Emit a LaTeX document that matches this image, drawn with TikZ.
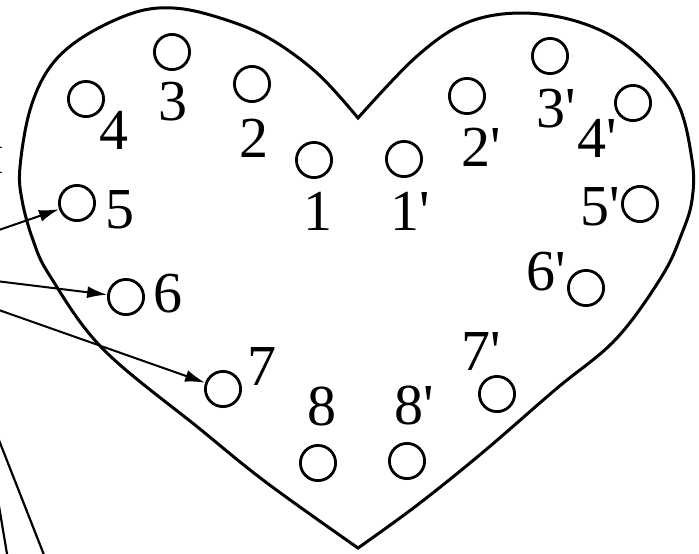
\documentclass[tikz,border=0pt]{standalone}
\usepackage{fontspec}
\setmainfont{Liberation Serif}
\usetikzlibrary{arrows.meta}

\begin{document}
\begin{tikzpicture}[x=0.5pt, y=-0.5pt,
    hole/.style={circle, draw, line width=1.4pt, minimum size=17.6pt, inner sep=0pt},
    num/.style={inner sep=0pt, font=\fontsize{29}{29}\selectfont},
    feed/.style={line width=1pt, -{Latex[length=10pt, width=6pt]}}]
    \useasboundingbox (0,0) rectangle (699,553);

    % Heart outline
    \draw[line width=1.5pt, line join=miter] plot[smooth, tension=0.6] coordinates {(358,118) (317,73) (267,37) (217,17) (173,8) (133,13) (83,37) (50,67) (30,110) (20,167) (22,200) (33,240) (50,276) (103,349) (200,429) (267,483) (358,548)}
        -- plot[smooth, tension=0.6] coordinates {(358,548) (416,506) (482,453) (556,389) (616,339) (662,276) (682,233) (692,200) (692,160) (676,100) (632,50) (582,23) (522,13) (466,23) (416,57) (358,118)} -- cycle;

    % Holes, left half
    \node[hole] (l1) at (314,160) {};
    \node[hole] (l2) at (252,84) {};
    \node[hole] (l3) at (172,52) {};
    \node[hole] (l4) at (86,99) {};
    \node[hole] (l5) at (77,203) {};
    \node[hole] (l6) at (126,297) {};
    \node[hole] (l7) at (223,389) {};
    \node[hole] (l8) at (318,463) {};

    % Holes, right half
    \node[hole] (r1) at (404,159) {};
    \node[hole] (r2) at (467,96) {};
    \node[hole] (r3) at (550,56) {};
    \node[hole] (r4) at (633,103) {};
    \node[hole] (r5) at (640,204) {};
    \node[hole] (r6) at (586,288) {};
    \node[hole] (r7) at (497,394) {};
    \node[hole] (r8) at (407,461) {};

    % Numbers
    \node[num] (nl1) at (318,211) {1};
    \node[num] (nl2) at (254,138) {2};
    \node[num] (nl3) at (173,102) {3};
    \node[num] (nl4) at (114,130) {4};
    \node[num] (nl5) at (120,210) {5};
    \node[num] (nl6) at (168,294) {6};
    \node[num] (nl7) at (262,366) {7};
    \node[num] (nl8) at (322,406) {8};
    \node[num] (nr1) at (410,211) {1\textquotesingle};
    \node[num] (nr2) at (481,147) {2\textquotesingle};
    \node[num] (nr3) at (556,109) {3\textquotesingle};
    \node[num] (nr4) at (597,138) {4\textquotesingle};
    \node[num] (nr5) at (600,207) {5\textquotesingle};
    \node[num] (nr6) at (546,272) {6\textquotesingle};
    \node[num] (nr7) at (481,351) {7\textquotesingle};
    \node[num] (nr8) at (414,405) {8\textquotesingle};

    % Cut-off text at the left edge
    \node[inner sep=0pt, font=\fontsize{20}{20}\selectfont] (cut) at (-3,160) {I};

    % Feed lines
    \coordinate (s5) at (-4,231);
    \coordinate (s6) at (-4,281);
    \coordinate (s7) at (-4,309);
    \draw[feed] (s5) -- (l5);
    \draw[feed] (s6) -- (l6);
    \draw[feed] (s7) -- (l7);

    % Lines running off the bottom left
    \draw[line width=1.1pt] (-5,430) -- (46,560);
    \draw[line width=1.1pt] (-2,500) -- (8,560);
\end{tikzpicture}
\end{document}
